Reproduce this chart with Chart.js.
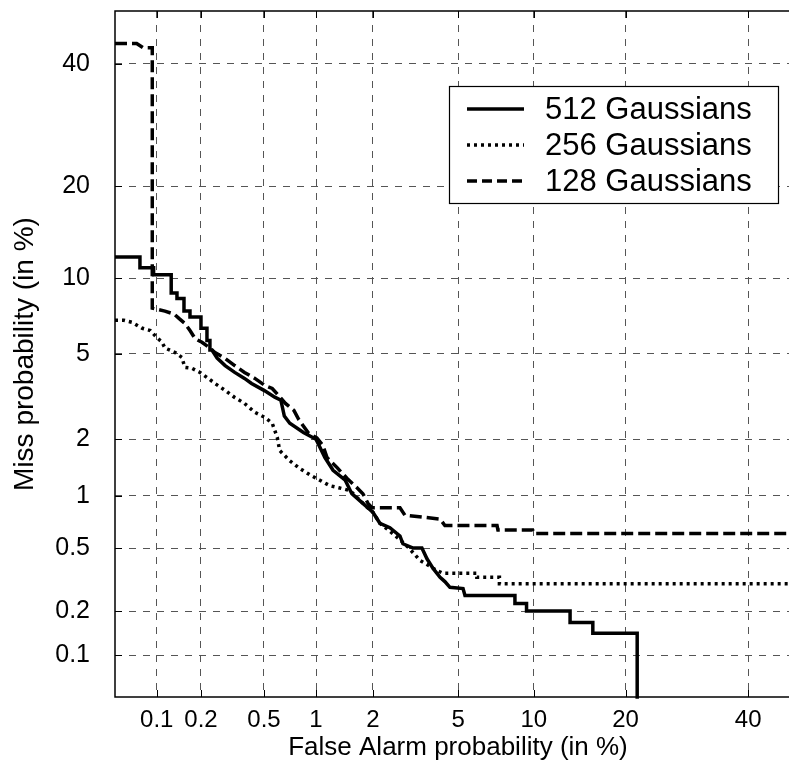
<!DOCTYPE html>
<html>
<head>
<meta charset="utf-8">
<script src="https://cdn.jsdelivr.net/npm/chart.js@4/dist/chart.umd.min.js"></script>
<style>
  html, body { margin: 0; padding: 0; overflow: hidden; background: #fff; }
  #wrap { position: relative; width: 805px; height: 763px; }
</style>
</head>
<body>
<div id="wrap"><canvas id="det"></canvas></div>
<script>
'use strict';

// tick labels (both axes, in %)
const tickPercents = [0.1, 0.2, 0.5, 1, 2, 5, 10, 20, 40];
const axisMin = 0.05;
const axisMax = 50;

// 512 Gaussians (solid)
const fa512 = [0.05, 0.076, 0.076, 0.095, 0.095, 0.126, 0.126, 0.138, 0.138, 0.154,
    0.154, 0.169, 0.169, 0.2, 0.2, 0.219, 0.219, 0.229, 0.229, 0.236,
    0.255, 0.287, 0.33, 0.38, 0.42, 0.5, 0.58, 0.63, 0.66, 0.71,
    0.85, 1.0, 1.12, 1.24, 1.44, 1.56, 1.78, 2.0, 2.17, 2.43,
    2.72, 2.81, 3.14, 3.45, 3.64, 3.88, 4.17, 4.38, 4.61, 5.25,
    5.35, 8.5, 8.5, 9.4, 9.4, 13.4, 13.4, 15.9, 15.9, 21.6, 21.6];
const miss512 = [11.9, 11.9, 10.9, 10.9, 10.3, 10.3, 8.8, 8.8, 8.4, 8.4,
    7.5, 7.5, 7.1, 7.1, 6.4, 6.4, 5.7, 5.7, 5.2, 5.2,
    4.8, 4.45, 4.15, 3.9, 3.7, 3.44, 3.2, 3.1, 2.6, 2.4,
    2.16, 2.0, 1.61, 1.38, 1.22, 1.03, 0.91, 0.81, 0.7, 0.66,
    0.59, 0.53, 0.5, 0.5, 0.43, 0.375, 0.33, 0.31, 0.285, 0.28,
    0.253, 0.253, 0.224, 0.224, 0.2, 0.2, 0.168, 0.168, 0.142, 0.142, 0.01];

// 256 Gaussians (dotted)
const fa256 = [0.05, 0.058, 0.067, 0.079, 0.09, 0.1, 0.109, 0.114, 0.134, 0.149,
    0.156, 0.174, 0.197, 0.219, 0.247, 0.287, 0.33, 0.38, 0.44, 0.507,
    0.56, 0.6, 0.62, 0.71, 0.81, 0.93, 1.05, 1.19, 1.33, 1.53,
    1.78, 2.0, 2.17, 2.43, 2.72, 3.0, 3.38, 4.04, 4.3, 6.0,
    6.0, 7.4, 7.4, 50];
const miss256 = [6.9, 6.9, 6.76, 6.4, 6.27, 5.87, 5.6, 5.3, 5.07, 4.83,
    4.37, 4.33, 4.15, 3.94, 3.7, 3.44, 3.19, 2.99, 2.71, 2.56,
    2.4, 2.04, 1.75, 1.55, 1.41, 1.3, 1.22, 1.14, 1.11, 1.07,
    0.91, 0.81, 0.7, 0.63, 0.56, 0.5, 0.42, 0.364, 0.35, 0.35,
    0.33, 0.33, 0.3, 0.3];

// 128 Gaussians (dashed)
const fa128 = [0.05, 0.072, 0.08, 0.093, 0.093, 0.114, 0.132, 0.143, 0.156, 0.169,
    0.183, 0.203, 0.226, 0.247, 0.287, 0.33, 0.38, 0.44, 0.507, 0.56,
    0.61, 0.67, 0.75, 0.8, 0.91, 1.01, 1.09, 1.15, 1.3, 1.47,
    1.66, 1.78, 1.89, 1.98, 2.72, 2.87, 4.17, 4.38, 7.24, 7.3,
    9.9, 10.0, 50];
const miss128 = [43.8, 43.8, 43.0, 43.0, 7.7, 7.5, 7.3, 7.0, 6.7, 6.27,
    5.8, 5.6, 5.33, 5.07, 4.78, 4.45, 4.15, 3.9, 3.62, 3.51,
    3.26, 2.99, 2.77, 2.5, 2.14, 2.03, 1.86, 1.61, 1.43, 1.25,
    1.11, 1.03, 0.91, 0.86, 0.86, 0.78, 0.74, 0.68, 0.68, 0.64,
    0.64, 0.61, 0.61];

const FONT = '"Liberation Sans", Arial, sans-serif';

// inverse of the standard normal cdf (Acklam)
function probit(p) {
    p = Math.min(Math.max(p, 1e-9), 1 - 1e-9);
    const a = [-39.69683028665376, 220.9460984245205, -275.9285104469687, 138.3577518672690, -30.66479806614716, 2.506628277459239];
    const b = [-54.47609879822406, 161.5858368580409, -155.6989798598866, 66.80131188771972, -13.28068155288572];
    const c = [-0.007784894002430293, -0.3223964580411365, -2.400758277161838, -2.549732539343734, 4.374664141464968, 2.938163982698783];
    const d = [0.007784695709041462, 0.3224671290700398, 2.445134137142996, 3.754408661907416];
    const plow = 0.02425;
    let q, r;
    if (p < plow) {
        q = Math.sqrt(-2 * Math.log(p));
        return (((((c[0] * q + c[1]) * q + c[2]) * q + c[3]) * q + c[4]) * q + c[5]) /
            ((((d[0] * q + d[1]) * q + d[2]) * q + d[3]) * q + 1);
    }
    if (p > 1 - plow) {
        q = Math.sqrt(-2 * Math.log(1 - p));
        return -(((((c[0] * q + c[1]) * q + c[2]) * q + c[3]) * q + c[4]) * q + c[5]) /
            ((((d[0] * q + d[1]) * q + d[2]) * q + d[3]) * q + 1);
    }
    q = p - 0.5;
    r = q * q;
    return (((((a[0] * r + a[1]) * r + a[2]) * r + a[3]) * r + a[4]) * r + a[5]) * q /
        (((((b[0] * r + b[1]) * r + b[2]) * r + b[3]) * r + b[4]) * r + 1);
}

function normCdf(z) {
    const t = 1 / (1 + 0.3275911 * Math.abs(z) / Math.SQRT2);
    const y = 1 - (((((1.061405429 * t - 1.453152027) * t) + 1.421413741) * t - 0.284496736) * t + 0.254829592) * t *
        Math.exp(-z * z / 2);
    return z >= 0 ? (1 + y) / 2 : (1 - y) / 2;
}

// normal deviate scale for DET plots, values in %
class ProbitScale extends Chart.Scale {
    determineDataLimits() {
        this.min = axisMin;
        this.max = axisMax;
    }
    buildTicks() {
        return tickPercents.map((v) => ({value: v}));
    }
    getLabelForValue(value) {
        return String(value);
    }
    configure() {
        super.configure();
        this._startValue = probit(this.min / 100);
        this._valueRange = probit(this.max / 100) - this._startValue;
    }
    getPixelForValue(value) {
        return this.getPixelForDecimal((probit(value / 100) - this._startValue) / this._valueRange);
    }
    getValueForPixel(pixel) {
        const dec = this.getDecimalForPixel(pixel);
        return normCdf(this._startValue + dec * this._valueRange) * 100;
    }
}
ProbitScale.id = 'probit';
ProbitScale.defaults = {};
Chart.register(ProbitScale);

function zip(xs, ys) {
    return xs.map((x, i) => ({x: x, y: ys[i]}));
}

// frame and inward tick marks
const frameTicks = {
    id: 'frameTicks',
    beforeDatasetsDraw(chart) {
        const {ctx, chartArea: a, scales: {x, y}} = chart;
        ctx.save();
        ctx.strokeStyle = '#000';
        ctx.lineWidth = 1;
        ctx.beginPath();
        x.ticks.forEach((t, i) => {
            const px = Math.round(x.getPixelForTick(i)) + 0.5;
            ctx.moveTo(px, a.bottom);
            ctx.lineTo(px, a.bottom - 7);
            ctx.moveTo(px, a.top);
            ctx.lineTo(px, a.top + 7);
        });
        y.ticks.forEach((t, i) => {
            const py = Math.round(y.getPixelForTick(i)) + 0.5;
            ctx.moveTo(a.left, py);
            ctx.lineTo(a.left + 7, py);
        });
        ctx.stroke();
        ctx.lineWidth = 1.5;
        ctx.strokeRect(a.left, a.top, a.right - a.left, a.bottom - a.top);
        ctx.restore();
    }
};

const boxLegend = {
    id: 'boxLegend',
    afterDatasetsDraw(chart) {
        const ctx = chart.ctx;
        ctx.save();
        ctx.fillStyle = '#fff';
        ctx.fillRect(449, 86, 330, 118);
        ctx.strokeStyle = '#000';
        ctx.lineWidth = 1.2;
        ctx.strokeRect(449.5, 86.5, 329, 117);
        chart.data.datasets.forEach((ds, i) => {
            const yy = 109 + i * 36;
            ctx.setLineDash(ds.legendDash || []);
            ctx.lineWidth = ds.borderWidth;
            ctx.beginPath();
            ctx.moveTo(467, yy);
            ctx.lineTo(524, yy);
            ctx.stroke();
            ctx.setLineDash([]);
            ctx.fillStyle = '#000';
            ctx.font = '31px ' + FONT;
            ctx.textBaseline = 'middle';
            ctx.fillText(ds.label, 545, yy + 1);
        });
        ctx.restore();
    }
};

const gridOpts = {
    color: '#555',
    lineWidth: 1,
    drawTicks: false,
};

new Chart(document.getElementById('det'), {
    type: 'line',
    data: {
        datasets: [{
            label: '512 Gaussians',
            data: zip(fa512, miss512),
            borderColor: '#000',
            borderWidth: 3.5,
            legendDash: [],
        }, {
            label: '256 Gaussians',
            data: zip(fa256, miss256),
            borderColor: '#000',
            borderWidth: 3.5,
            borderDash: [3, 4],
            legendDash: [3, 4],
        }, {
            label: '128 Gaussians',
            data: zip(fa128, miss128),
            borderColor: '#000',
            borderWidth: 3.5,
            borderDash: [12, 5],
            legendDash: [10, 5],
        }]
    },
    options: {
        responsive: true,
        maintainAspectRatio: false,
        animation: false,
        layout: {padding: {top: 11, right: 4, left: 0, bottom: 0}},
        elements: {
            point: {radius: 0},
            line: {tension: 0, borderCapStyle: 'butt', borderJoinStyle: 'miter'},
        },
        plugins: {
            legend: {display: false},
            tooltip: {enabled: false},
        },
        scales: {
            x: {
                type: 'probit',
                position: 'bottom',
                grid: gridOpts,
                border: {display: false, dash: [7, 7]},
                ticks: {
                    color: '#000',
                    font: {family: FONT, size: 24},
                    padding: 9,
                    maxRotation: 0,
                    autoSkip: false,
                    callback: (v) => String(v),
                },
                title: {
                    display: true,
                    text: 'False Alarm probability (in %)',
                    color: '#000',
                    font: {family: FONT, size: 26},
                    padding: {top: 0, bottom: 0},
                },
                afterFit: (scale) => {
                    scale.height = 66;
                    scale.paddingLeft = 0;
                    scale.paddingRight = 0;
                },
            },
            y: {
                type: 'probit',
                position: 'left',
                grid: gridOpts,
                border: {display: false, dash: [7, 7]},
                ticks: {
                    color: '#000',
                    font: {family: FONT, size: 25},
                    padding: 25,
                    autoSkip: false,
                    callback: (v) => String(v),
                },
                title: {
                    display: true,
                    text: 'Miss probability (in %)',
                    color: '#000',
                    font: {family: FONT, size: 28},
                    padding: {top: 8, bottom: 0},
                },
                afterFit: (scale) => {
                    scale.width = 115;
                    scale.paddingTop = 0;
                    scale.paddingBottom = 0;
                },
            },
        },
    },
    plugins: [frameTicks, boxLegend],
});
</script>
</body>
</html>
